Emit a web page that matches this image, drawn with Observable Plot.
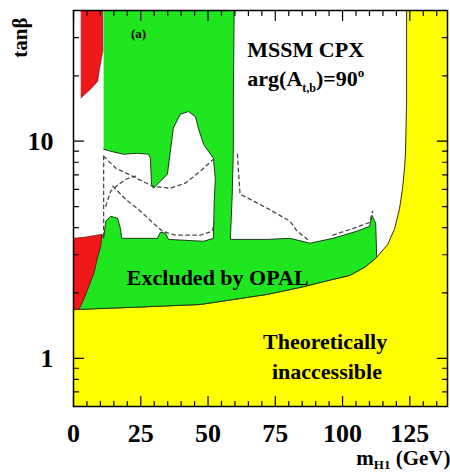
<!DOCTYPE html>
<html><head><meta charset="utf-8">
<script src="https://cdn.jsdelivr.net/npm/d3@7"></script>
<script src="https://cdn.jsdelivr.net/npm/@observablehq/plot@0.6"></script>
<style>
html,body{margin:0;padding:0;background:#fff;}
svg{display:block;}
</style></head><body>
<script>
// axis ticks
const xTickValues = [0, 25, 50, 75, 100, 125];
const xMinorValues = [5,10,15,20,30,35,40,45,55,60,65,70,80,85,90,95,105,110,115,120,130,135];
const yTickValues = [1, 10];
const yMinorValues = [0.6,0.7,0.8,0.9,2,3,4,5,6,7,8,9,20,30];
const xDomain = [0, 139];
const yDomain = [0.6, 40];

// regions [m_H1 (GeV), tanβ]
const theoryBoundary = [[0,1.68],[23.1,1.72],[47.1,1.77],[72.0,1.97],[84.2,2.12],[96.4,2.31],[102.7,2.41],[108.3,2.63],[112.7,2.92],[116.8,3.35],[119.4,3.97],[121.2,4.91],[122.3,6.07],[123.1,7.67],[123.4,8.99],[123.8,15.3],[123.8,40]];
const theoryCorners = [[139,40],[139,0.6],[0,0.6]];

const excludedRegion = [[11.2,40],[59.7,40],[59.4,15.3],[59.4,9.0],[59.0,5.70],[58.3,3.53],[72.0,3.53],[80.5,3.57],[87.9,3.39],[96.4,3.57],[105.3,3.85],[110.1,4.06],[110.9,4.56],[112.3,4.19],[112.7,2.92],[108.3,2.63],[102.7,2.41],[96.4,2.31],[84.2,2.12],[72.0,1.97],[47.1,1.77],[23.1,1.72],[2.0,1.68],[2.7,1.75],[3.8,1.87],[5.7,2.15],[7.5,2.46],[9.0,2.95],[10.1,3.28],[10.5,3.73],[11.2,3.57],[12.0,4.28],[13.8,4.51],[16.4,4.42],[17.5,3.93],[17.9,3.57],[31.2,3.57],[32.3,3.81],[34.2,3.77],[35.3,3.53],[48.3,3.46],[52.0,3.57],[52.3,5.29],[52.7,6.75],[52.0,8.35],[48.3,9.69],[46.4,11.5],[45.3,13.0],[42.7,13.7],[39.7,13.3],[37.1,11.5],[36.0,9.0],[34.9,7.05],[32.3,6.54],[29.7,6.07],[29.0,6.34],[28.6,8.35],[27.9,8.71],[23.8,8.80],[18.6,8.71],[13.8,8.99],[11.2,9.19]];

const redTop = [[2.7,40],[10.9,40],[10.9,26.0],[9.7,21.7],[9.0,18.9],[6.4,17.4],[2.7,15.8]];
const redBottom = [[0,3.57],[4.5,3.62],[10.5,3.73],[10.1,3.28],[9.0,2.95],[7.5,2.46],[5.7,2.15],[3.8,1.87],[2.7,1.75],[2.0,1.68],[0,1.68]];

// expected-limit dashed contours
const dashA = [[11.2,8.53],[15.7,7.51],[21.2,6.97],[29.4,6.20],[36.0,6.07],[41.6,6.41],[47.1,7.27],[52.0,8.26]];
const dashB = [[12.0,5.02],[13.8,5.88],[16.4,6.27],[19.4,6.68],[23.1,6.90]];
const dashC = [[14.6,6.20],[19.4,5.40],[24.9,4.76],[29.7,4.19],[33.1,3.85],[37.9,3.69],[47.1,3.69],[51.6,3.85],[52.3,4.19]];
const dashD = [[11.2,8.53],[11.2,3.57]];
const dashE = [[60.9,8.71],[61.9,5.70],[65.7,5.40],[72.0,4.91],[80.5,4.28],[83.1,3.85],[87.9,3.46]];
const dashF = [[96.4,3.69],[105.3,4.02],[110.1,4.23],[111.2,4.76]];

const serif = "Liberation Serif";
const tickShape = {draw(ctx, l) { ctx.moveTo(0, 0); ctx.lineTo(0, -l); }};
const tickMarks = (vals, dim, anchor, rot, len) =>
  Plot.vector(vals, {[dim]: d => d, frameAnchor: anchor, rotate: rot, length: len, anchor: "start", shape: tickShape, stroke: "black", strokeWidth: 1.2});

const txt = (s, x, y, o = {}) => Plot.text([s], {x, y, text: d => d, fontFamily: serif, fontWeight: "bold", fill: "black", ...o});

const dash = (pts) => Plot.line(pts, {x: "0", y: "1", stroke: "#4a4a4a", strokeWidth: 1.3, strokeDasharray: "3.5,3.5"});

const chart = Plot.plot({
  width: 450, height: 475,
  marginLeft: 73, marginRight: 3, marginTop: 10, marginBottom: 69,
  x: {domain: xDomain, axis: null},
  y: {type: "log", domain: yDomain, axis: null},
  style: {fontFamily: serif, background: "white"},
  marks: [
    Plot.line([...theoryBoundary, ...theoryCorners], {x: "0", y: "1", fill: "#ffff00", stroke: "none"}),
    Plot.line(theoryBoundary, {x: "0", y: "1", stroke: "#3a3000", strokeWidth: 1}),
    Plot.line(excludedRegion, {x: "0", y: "1", fill: "#1fe61f", stroke: "#1d3a1d", strokeWidth: 1}),
    Plot.line(redTop, {x: "0", y: "1", fill: "#f01818", stroke: "#5a1010", strokeWidth: 0.6}),
    Plot.line(redBottom, {x: "0", y: "1", fill: "#f01818", stroke: "#5a1010", strokeWidth: 0.6}),
    dash(dashA), dash(dashB), dash(dashC), dash(dashD), dash(dashE), dash(dashF),
    Plot.frame({stroke: "black", strokeWidth: 1.5}),
    tickMarks(xTickValues, "x", "bottom", 0, 10),
    tickMarks(xMinorValues, "x", "bottom", 0, 5),
    tickMarks(xTickValues, "x", "top", 180, 10),
    tickMarks(xMinorValues, "x", "top", 180, 5),
    tickMarks(yTickValues, "y", "left", 90, 10),
    tickMarks(yMinorValues, "y", "left", 90, 5),
    tickMarks(yTickValues, "y", "right", -90, 10),
    tickMarks(yMinorValues, "y", "right", -90, 5),
    Plot.text(xTickValues, {x: d => d, frameAnchor: "bottom", lineAnchor: "middle", dy: 27, text: d => String(d), fontSize: 26, fontWeight: "bold", fontFamily: serif}),
    Plot.text(yTickValues, {y: d => d, frameAnchor: "left", textAnchor: "end", lineAnchor: "middle", dx: -20, text: d => String(d), fontSize: 26, fontWeight: "bold", fontFamily: serif}),
    Plot.text(["tanβ"], {frameAnchor: "top-left", textAnchor: "middle", lineAnchor: "middle", dx: -53, dy: 27, rotate: -90, text: d => d, fontSize: 21, fontWeight: "bold", fontFamily: serif}),
    Plot.text(["XLABEL"], {frameAnchor: "bottom-right", textAnchor: "end", lineAnchor: "middle", dx: 3, dy: 52, text: d => d, fontSize: 21, fontWeight: "bold", fontFamily: serif}),
    txt("(a)", 24.2, 31.1, {fontSize: 13}),
    txt("MSSM CPX", 64.6, 26.4, {fontSize: 22, textAnchor: "start"}),
    txt("ARGLABEL", 64.6, 19.3, {fontSize: 22, textAnchor: "start"}),
    txt("Excluded by OPAL", 53.6, 2.34, {fontSize: 22}),
    txt("Theoretically", 93.5, 1.185, {fontSize: 22}),
    txt("inaccessible", 94.2, 0.862, {fontSize: 22})
  ]
});

d3.select(chart).selectAll("text").each(function() {
  const t = this.textContent;
  const s = d3.select(this);
  if (t === "ARGLABEL") {
    s.text(null);
    s.append("tspan").text("arg(A");
    s.append("tspan").attr("font-size", 12).attr("dy", 6).text("t,b");
    s.append("tspan").attr("dy", -6).text(")=90");
    s.append("tspan").attr("font-size", 13).attr("dy", -9).text("o");
  } else if (t === "XLABEL") {
    s.text(null);
    s.append("tspan").text("m");
    s.append("tspan").attr("font-size", 13).attr("dy", 4).text("H1");
    s.append("tspan").attr("dy", -4).text(" (GeV)");
  }
});

document.body.appendChild(chart);
</script>
</body></html>
